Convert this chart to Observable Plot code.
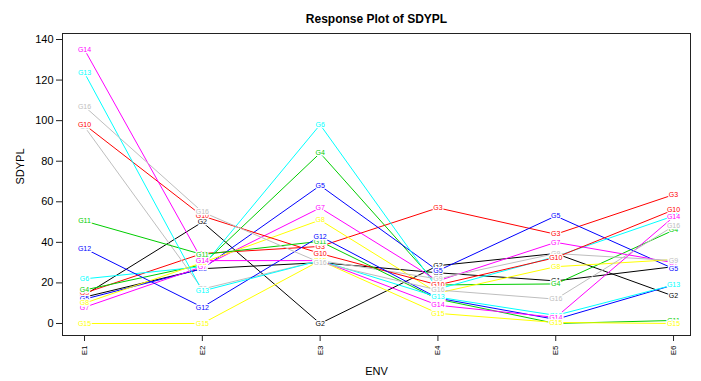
<!DOCTYPE html>
<html>
<head>
<meta charset="utf-8">
<script src="https://cdn.jsdelivr.net/npm/d3@7"></script>
<script src="https://cdn.jsdelivr.net/npm/@observablehq/plot@0.6"></script>
<style>
  html, body { margin: 0; padding: 0; background: #fff; }
  #chart svg { display: block; }
</style>
</head>
<body>
<div id="chart"></div>
<script>
// ---- data ----
const envs = ["E1", "E2", "E3", "E4", "E5", "E6"];
const genotypes = ["G1","G2","G3","G4","G5","G6","G7","G8","G9","G10","G11","G12","G13","G14","G15","G16"];
const G1  = [13,   27, 30,   25,   21,   28];
const G2  = [14,   50,  0,   28.5, 34.5, 13.5];
const G3  = [15,   34.5, 38, 57,   44,   63.5];
const G4  = [16.5, 29, 84,   19,   19.5, 46];
const G5  = [12,   27, 68,   26,   53,   27];
const G6  = [22,   28, 98,   17,   33,   53];
const G7  = [8,    28, 57,   21,   40,   30];
const G8  = [10,   30, 51,   15,   28,   31.5];
const G9  = [97,   17, 31,   22,   34.5, 31];
const G10 = [98,   53, 34.5, 19,   32.5, 56];
const G11 = [50.5, 34, 40.5, 12,   0,    1.5];
const G12 = [37,   8,  43,   12.5, 2,    19];
const G13 = [123.5,16, 31,   13,   4,    19];
const G14 = [135,  31, 31,   9,    3,    52.5];
const G15 = [0,    0,  31,   5,    0.5,  0];
const G16 = [107,  55, 30,   16.5, 12,   48];
const yTicks = [0, 20, 40, 60, 80, 100, 120, 140];
const title = "Response Plot of SDYPL";
const xLabel = "ENV";
const yLabel = "SDYPL";

// R default palette, assigned in alphabetical factor order (G1, G10..G16, G2..G9)
const rPalette = ["#000000", "#FF0000", "#00CD00", "#0000FF", "#00FFFF", "#FF00FF", "#FFFF00", "#BEBEBE"];
const series = [G1,G2,G3,G4,G5,G6,G7,G8,G9,G10,G11,G12,G13,G14,G15,G16];
const sortedGeno = genotypes.slice().sort();
const genoColors = genotypes.map(g => rPalette[sortedGeno.indexOf(g) % 8]);

const rows = [];
genotypes.forEach((g, gi) => {
  series[gi].forEach((v, ei) => rows.push({geno: g, env: ei + 1, value: v}));
});

const chart = Plot.plot({
  width: 701,
  height: 381,
  marginLeft: 62,
  marginRight: 11,
  marginTop: 33,
  marginBottom: 46,
  style: {fontFamily: "'Liberation Sans', Arial, sans-serif", fontSize: "11px", background: "#fff", color: "#000"},
  x: {type: "linear", domain: [0.813, 6.144]},
  y: {domain: [-5.92, 142.96]},
  color: {domain: genotypes, range: genoColors},
  marks: [
    Plot.line(rows, {x: "env", y: "value", z: "geno", stroke: "geno", strokeWidth: 1}),
    Plot.text(rows, {x: "env", y: "value", text: "geno", fill: "geno", fontSize: 7,
      stroke: "white", strokeWidth: 2.5}),
    Plot.frame({stroke: "#222", strokeWidth: 1}),
    Plot.axisY({ticks: yTicks, tickSize: 6, tickPadding: 3, label: null, fontSize: 11, stroke: "#222"}),
    Plot.axisX({ticks: [1,2,3,4,5,6], tickFormat: i => envs[i - 1], tickSize: 6, tickPadding: 4,
      tickRotate: -90, label: null, fontSize: 8, stroke: "#222"}),
    Plot.text([yLabel], {frameAnchor: "left", dx: -42, rotate: -90, fontSize: 11}),
    Plot.text([xLabel], {frameAnchor: "bottom", dy: 39, fontSize: 11}),
    Plot.text([title], {frameAnchor: "top", dy: -19, fontSize: 12, fontWeight: "bold"})
  ]
});
document.getElementById("chart").appendChild(chart);
</script>
</body>
</html>
